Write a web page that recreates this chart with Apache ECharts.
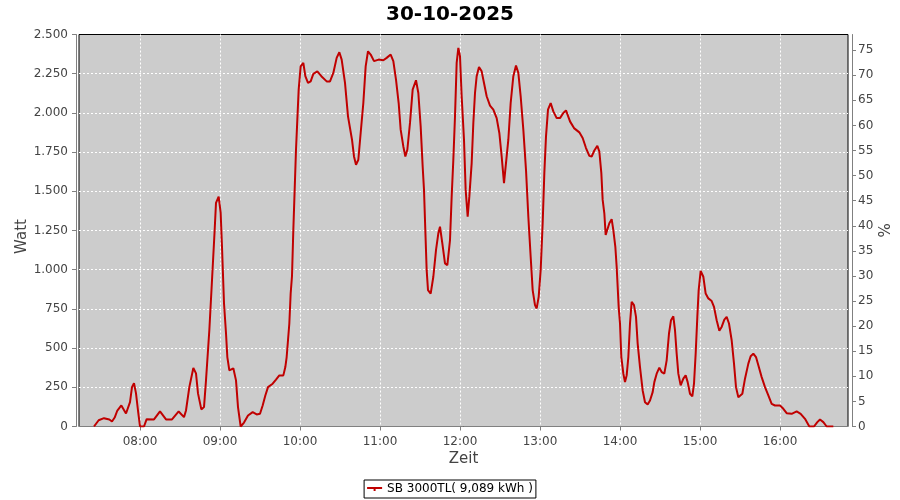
<!DOCTYPE html>
<html>
<head>
<meta charset="utf-8">
<script src="https://cdn.jsdelivr.net/npm/echarts@6/dist/echarts.min.js"></script>
<style>html,body{margin:0;padding:0;background:#fff}#c{width:900px;height:500px}</style>
</head>
<body>
<div id="c"></div>
<script>
const chartTitle = '30-10-2025';
const seriesName = 'SB 3000TL( 9,089 kWh )';
const times = [
'07:25:30','07:29','07:33','07:37','07:39','07:41','07:43','07:46','07:47','07:49:30','07:50:30','07:52:30','07:54','07:55:30','07:57','07:58:30',
'08:00','08:03','08:05','08:10:30','08:15','08:19:30','08:24','08:29','08:33','08:34:30','08:37','08:40','08:42','08:43:30','08:46','08:48','08:49:30','08:52','08:54','08:56','08:57','08:59',
'09:00:30','09:01:30','09:03','09:04:30','09:05:30','09:07','09:10','09:12','09:13:30','09:15:30','09:18','09:21','09:24:30','09:27:30','09:30','09:32','09:34','09:36','09:39:30','09:42','09:44:30','09:47:30','09:49','09:50','09:51','09:52','09:53','09:54','09:55','09:56','09:57','09:58','09:59',
'10:00:30','10:02:30','10:04','10:06','10:08','10:10','10:13','10:16','10:20','10:22:30','10:25','10:27:30','10:29:30','10:31:15','10:33:45','10:36','10:39','10:40:30','10:42','10:43:45','10:45:30','10:47:30','10:49:15','10:51','10:53','10:55:30','10:59',
'11:02:30','11:05','11:08','11:10','11:12','11:14','11:15:30','11:17:30','11:19','11:20:30','11:22:30','11:24:30','11:27','11:28:45','11:30:30','11:32','11:33','11:34','11:35','11:36','11:38','11:40','11:42','11:43:45','11:45','11:46:45','11:48:45','11:50:30','11:52:30','11:53:45','11:55','11:56:15','11:57:30','11:58:45',
'12:00','12:01:15','12:03','12:04:15','12:05:45','12:07','12:08:45','12:10','12:11:15','12:12:30','12:14:15','12:16:15','12:18','12:20','12:22:30','12:25','12:27:30','12:29:30','12:31:15','12:33','12:34:30','12:36:15','12:38','12:40','12:42','12:43:45','12:45:30','12:47:30','12:49:30','12:51:15','12:53','12:54:30','12:56:15','12:57:30','12:59',
'13:00:30','13:02','13:03:15','13:04:30','13:06','13:08','13:10','13:12:30','13:15','13:17:30','13:19:30','13:22:30','13:25:30','13:29:30','13:32','13:34:30','13:37','13:38:45','13:40:45','13:43','13:44:30','13:46','13:47','13:48:15','13:49:15','13:50:45','13:52','13:53:45','13:55','13:56:30','13:57:30','13:58:15','13:59',
'14:00','14:01','14:02:30','14:03:45','14:05','14:06:15','14:07:30','14:08:45','14:10:30','14:12','14:13:15','14:15','14:17','14:18:45','14:20:45','14:22:30','14:24:30','14:25:45','14:27:30','14:29:30','14:31:15','14:33:15','14:35','14:36:45','14:38:15','14:40','14:41:15','14:42:30','14:43:45','14:45:30','14:47:30','14:49:15','14:50:45','14:52:30','14:54:15','14:55:30','14:56:45','14:58','14:59',
'15:00:30','15:02:30','15:04:15','15:06:15','15:08:45','15:10:30','15:12:30','15:14:30','15:16:15','15:18:15','15:20','15:21:45','15:23:45','15:25:30','15:27','15:28:45','15:30','15:31:45','15:33:45','15:36:15','15:38','15:40','15:42','15:43:45','15:46:15','15:48:45','15:51:15','15:53:45','15:56:15',
'16:00','16:02:30','16:05','16:08:45','16:12:30','16:15:30','16:18:45','16:22','16:25:30','16:28','16:30','16:32:30','16:35','16:40'
];
const watts = [
0,40,53,45,32,57,102,134,124,83,83,155,251,277,211,102,
0,0,47,45,96,45,45,96,60,102,251,373,339,211,109,124,294,614,933,1253,1426,1466,
1362,1146,786,595,443,358,371,294,124,0,25,70,92,77,81,134,198,251,273,299,326,326,379,443,550,657,848,960,1253,1509,1765,1957,2148,
2297,2319,2234,2191,2201,2249,2265,2234,2201,2201,2255,2351,2387,2340,2191,1978,1829,1722,1669,1701,1872,2063,2297,2393,2372,2330,2340,
2336,2351,2372,2330,2212,2063,1893,1786,1722,1765,1936,2148,2208,2127,1914,1658,1509,1250,997,870,848,955,1125,1232,1274,1168,1040,1029,1189,1466,1701,1978,2319,2415,
2361,2106,1829,1509,1338,1466,1680,1936,2127,2234,2293,2265,2191,2106,2046,2021,1967,1872,1722,1552,1552,1829,2063,2234,2302,2255,2106,1893,1637,1338,1083,870,774,753,827,
997,1296,1616,1850,2021,2063,2010,1967,1967,1999,2016,1946,1903,1876,1840,1776,1726,1722,1760,1790,1754,1616,1445,1360,1221,1210,1296,1322,1253,1146,1019,891,763,
657,443,337,283,326,443,657,795,774,699,529,379,230,155,141,166,219,283,337,375,347,337,422,593,678,703,614,465,337,262,305,326,283,209,192,273,465,699,870,
993,955,848,817,800,763,678,610,635,682,699,657,550,401,251,187,187,209,305,401,448,465,443,390,315,251,198,145,134,
134,113,85,81,96,81,49,0,0,28,45,28,0,0
];
const xStart = '07:14:15';
const xEnd = '16:51';
const wattMax = 2500, wattStep = 250;
const pctMax = 78.125;
const pctTicks = [0,5,10,15,20,25,30,35,40,45,50,55,60,65,70,75];

function ts(t){
  const p = t.split(':').map(Number);
  return Date.UTC(2025, 9, 30, p[0], p[1], p[2] || 0);
}
function pad(n){ return (n < 10 ? '0' : '') + n; }
function fmtThousands(v){ return String(v).replace(/\B(?=(\d{3})+(?!\d))/g, '.'); }

const F = 'DejaVu Sans';
const axisGray = '#808080';
const chart = echarts.init(document.getElementById('c'), null, {renderer: 'canvas'});
chart.setOption({
  animation: false,
  useUTC: true,
  backgroundColor: '#ffffff',
  title: {
    text: chartTitle, left: 'center', top: 0,
    textStyle: {fontFamily: F, fontSize: 20, fontWeight: 'bold', color: '#000'}
  },
  legend: {
    bottom: 2, left: 'center',
    borderColor: '#000', borderWidth: 1, padding: [3, 3],
    itemWidth: 15, itemHeight: 6, itemGap: 10,
    textStyle: {fontFamily: F, fontSize: 12, color: '#000'},
    data: [{name: seriesName, icon: 'path://M0,2H15V4H0Z M6.5,2H8.5V6H6.5Z'}]
  },
  grid: {
    left: 79, top: 34.5, width: 769, height: 392,
    outerBoundsMode: 'none', containLabel: false,
    show: true, backgroundColor: '#cccccc', borderColor: '#000', borderWidth: 1
  },
  xAxis: {
    type: 'time',
    min: ts(xStart), max: ts(xEnd),
    minInterval: 3600000, maxInterval: 3600000,
    offset: 4,
    name: 'Zeit', nameLocation: 'middle', nameGap: 21, nameMoveOverlap: false,
    nameTextStyle: {fontFamily: F, fontSize: 15, color: '#444'},
    axisLine: {show: true, lineStyle: {color: axisGray}},
    axisTick: {show: true, length: 4, lineStyle: {color: axisGray}},
    axisLabel: {
      fontFamily: F, fontSize: 12, color: '#444', margin: 5,
      showMinLabel: false, showMaxLabel: false,
      formatter: function(v){ const d = new Date(v); return pad(d.getUTCHours()) + ':' + pad(d.getUTCMinutes()); }
    },
    splitLine: {show: true, showMinLine: false, showMaxLine: false, lineStyle: {color: '#ffffff', type: [2, 2], width: 1}}
  },
  yAxis: [{
    type: 'value', min: 0, max: wattMax, interval: wattStep,
    position: 'left', offset: 3,
    name: 'Watt', nameLocation: 'middle', nameGap: 46, nameMoveOverlap: false,
    nameTextStyle: {fontFamily: F, fontSize: 15, color: '#444', padding: [0, 12, 0, 0]},
    axisLine: {show: true, lineStyle: {color: axisGray}},
    axisTick: {show: true, length: 4, lineStyle: {color: axisGray}},
    axisLabel: {fontFamily: F, fontSize: 12, color: '#444', margin: 8, formatter: fmtThousands},
    splitLine: {show: true, showMinLine: false, showMaxLine: false, lineStyle: {color: '#ffffff', type: [2, 2], width: 1}}
  }, {
    type: 'value', min: 0, max: pctMax,
    position: 'right', offset: 4,
    name: '%', nameLocation: 'middle', nameGap: 22, nameRotate: -90, nameMoveOverlap: false,
    nameTextStyle: {fontFamily: F, fontSize: 15, color: '#444'},
    axisLine: {show: true, lineStyle: {color: axisGray}},
    axisTick: {show: true, length: 4, lineStyle: {color: axisGray}, customValues: pctTicks},
    axisLabel: {fontFamily: F, fontSize: 12, color: '#444', margin: 6, customValues: pctTicks},
    splitLine: {show: false}
  }],
  series: [{
    name: seriesName,
    type: 'line',
    yAxisIndex: 0,
    showSymbol: false,
    symbol: 'none',
    lineStyle: {color: '#c00000', width: 2},
    itemStyle: {color: '#c00000'},
    data: times.map(function(t, i){ return [ts(t), watts[i]]; })
  }]
});
</script>
</body>
</html>
